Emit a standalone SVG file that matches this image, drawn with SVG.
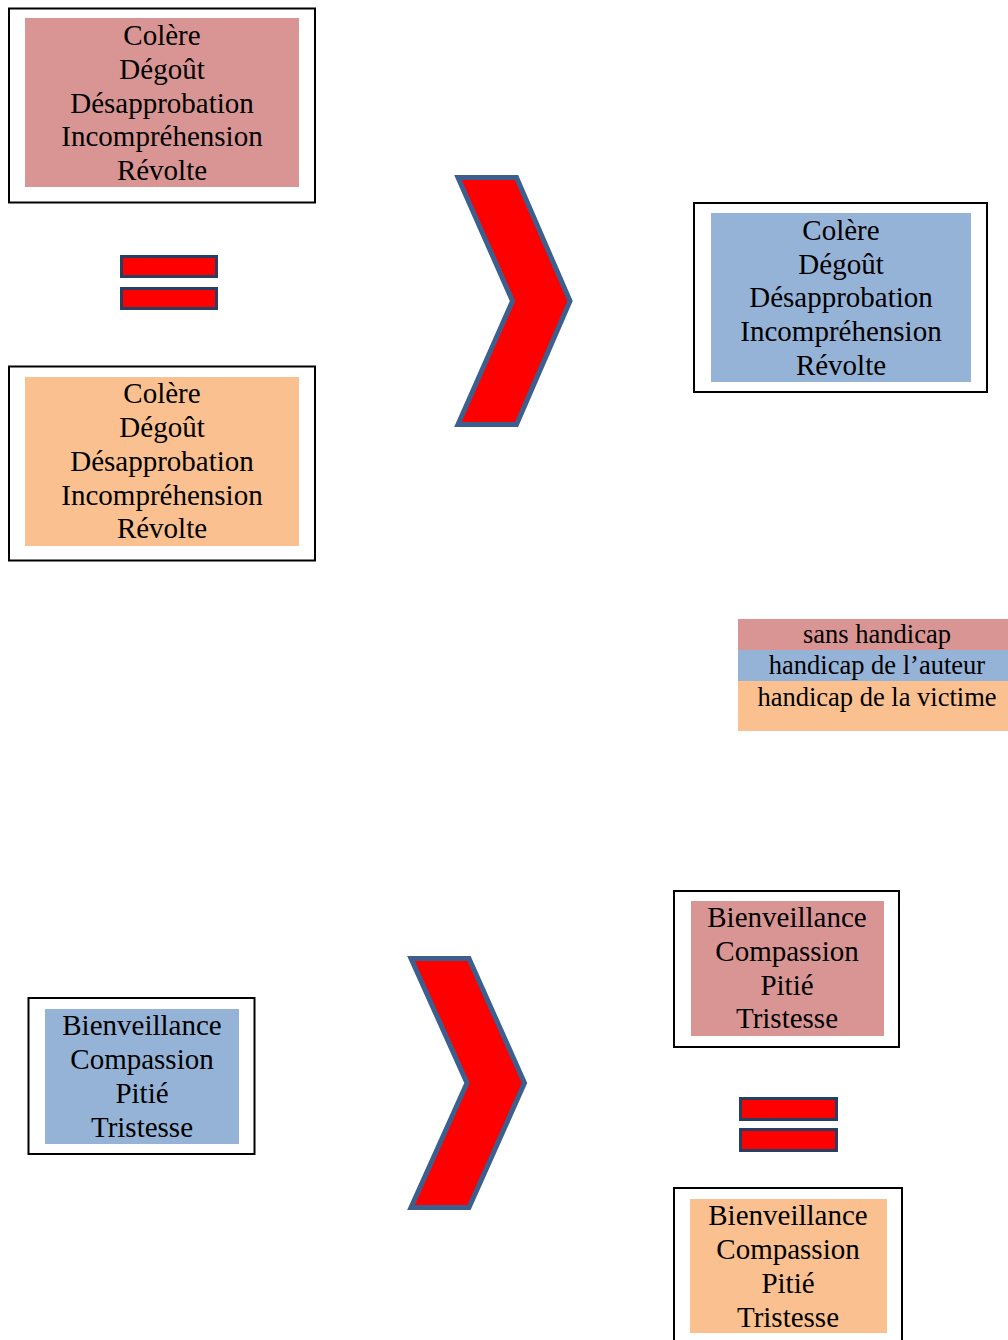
<svg xmlns="http://www.w3.org/2000/svg" width="1008" height="1340" viewBox="0 0 1008 1340">
<style>
.frame{fill:#fff;stroke:#000;stroke-width:2}
.pink{fill:#D99594}
.blue{fill:#95B3D7}
.orange{fill:#FAC090}
.t{font-family:"Liberation Serif","Times New Roman",serif;font-size:29px;fill:#000;text-anchor:middle}
.lg{font-family:"Liberation Serif","Times New Roman",serif;font-size:26.5px;fill:#000;text-anchor:middle}
.eq{fill:#FF0000;stroke:#263F62;stroke-width:3}
.chev{fill:#FF0000;stroke:#3C5F8E;stroke-width:5;stroke-linejoin:miter}
</style>
<rect width="1008" height="1340" fill="#fff"/>
<g id="box-sans-handicap-1">
<rect class="frame" x="9" y="8.5" width="306" height="194"/>
<rect class="pink" x="25" y="18" width="274" height="169"/>
<text class="t" x="162" y="45">Colère</text>
<text class="t" x="162" y="79">Dégoût</text>
<text class="t" x="162" y="113">Désapprobation</text>
<text class="t" x="162" y="146">Incompréhension</text>
<text class="t" x="162" y="180">Révolte</text>
</g>
<g id="equal-1">
<rect class="eq" x="121.5" y="256.5" width="95" height="20"/>
<rect class="eq" x="121.5" y="288.5" width="95" height="20"/>
</g>
<g id="box-victime-1">
<rect class="frame" x="9" y="366.5" width="306" height="194"/>
<rect class="orange" x="25" y="377" width="274" height="169"/>
<text class="t" x="162" y="403">Colère</text>
<text class="t" x="162" y="437">Dégoût</text>
<text class="t" x="162" y="471">Désapprobation</text>
<text class="t" x="162" y="505">Incompréhension</text>
<text class="t" x="162" y="538">Révolte</text>
</g>
<g id="chevron-1">
<polygon class="chev" points="458,177.5 516.5,177.5 570,301 516.5,424.5 458,424.5 512.5,301"/>
</g>
<g id="box-auteur-1">
<rect class="frame" x="694" y="203" width="293" height="189"/>
<rect class="blue" x="711" y="213" width="260" height="169"/>
<text class="t" x="841" y="240">Colère</text>
<text class="t" x="841" y="274">Dégoût</text>
<text class="t" x="841" y="307">Désapprobation</text>
<text class="t" x="841" y="341">Incompréhension</text>
<text class="t" x="841" y="375">Révolte</text>
</g>
<g id="legend">
<rect class="pink" x="738" y="619" width="270" height="31"/>
<rect class="blue" x="738" y="650" width="270" height="31"/>
<rect class="orange" x="738" y="681" width="270" height="50"/>
<text class="lg" x="877" y="643">sans handicap</text>
<text class="lg" x="877" y="674">handicap de l’auteur</text>
<text class="lg" x="877" y="706">handicap de la victime</text>
</g>
<g id="box-auteur-2">
<rect class="frame" x="28.5" y="998" width="226" height="156"/>
<rect class="blue" x="45" y="1009" width="194" height="135"/>
<text class="t" x="142" y="1035">Bienveillance</text>
<text class="t" x="142" y="1069">Compassion</text>
<text class="t" x="142" y="1103">Pitié</text>
<text class="t" x="142" y="1137">Tristesse</text>
</g>
<g id="chevron-2">
<polygon class="chev" points="411,958.5 469,958.5 524.5,1083 469,1207.5 411,1207.5 467,1083"/>
</g>
<g id="box-sans-handicap-2">
<rect class="frame" x="674" y="891" width="225" height="156"/>
<rect class="pink" x="691" y="901" width="193" height="135"/>
<text class="t" x="787" y="927">Bienveillance</text>
<text class="t" x="787" y="961">Compassion</text>
<text class="t" x="787" y="995">Pitié</text>
<text class="t" x="787" y="1028">Tristesse</text>
</g>
<g id="equal-2">
<rect class="eq" x="740.5" y="1098.5" width="96" height="21"/>
<rect class="eq" x="740.5" y="1129.5" width="96" height="21"/>
</g>
<g id="box-victime-2">
<rect class="frame" x="674" y="1188" width="228" height="160"/>
<rect class="orange" x="690" y="1199" width="197" height="134"/>
<text class="t" x="788" y="1225">Bienveillance</text>
<text class="t" x="788" y="1259">Compassion</text>
<text class="t" x="788" y="1293">Pitié</text>
<text class="t" x="788" y="1327">Tristesse</text>
</g>
<g id="connectors"></g>
</svg>
